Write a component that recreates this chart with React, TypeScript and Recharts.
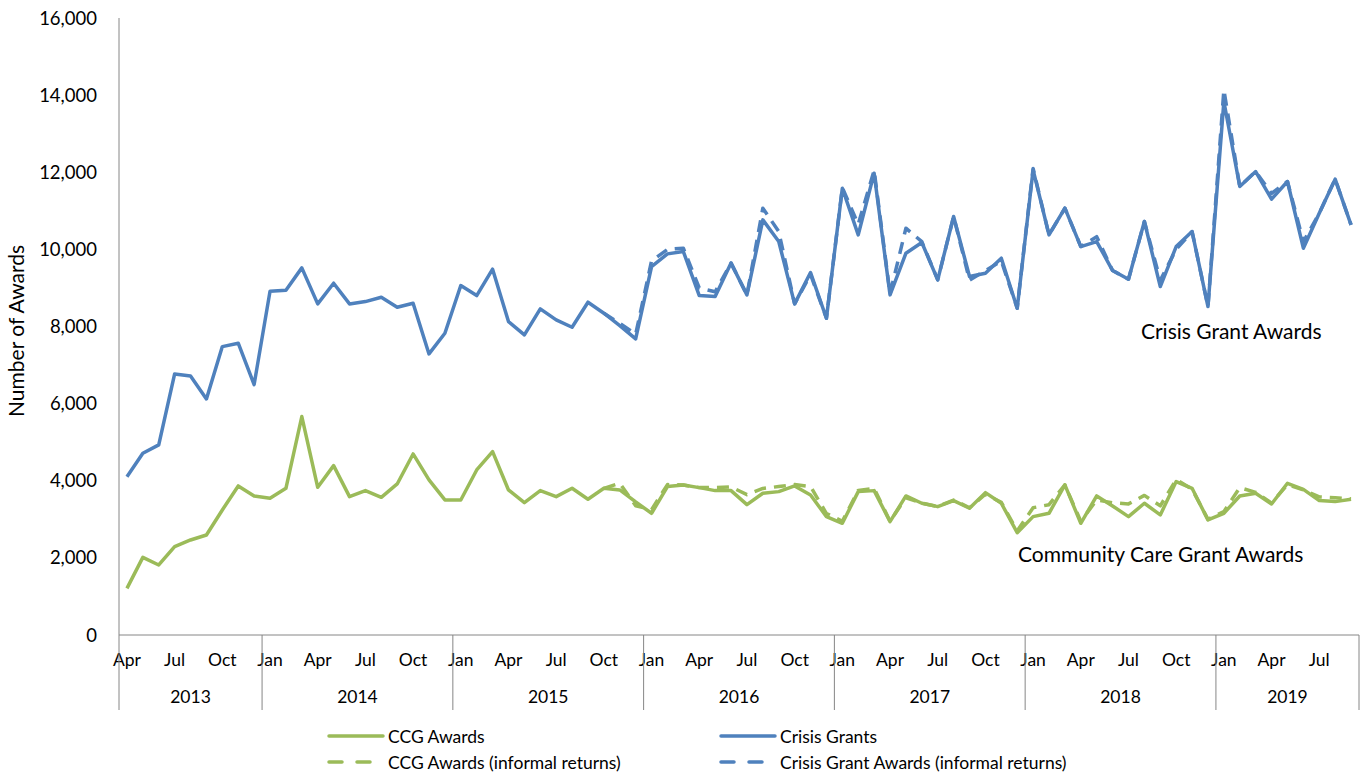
import React from 'react';
import { LineChart, Line, XAxis, YAxis } from 'recharts';

// ---- categories ----
const MONTH_NAMES = ['Jan', 'Feb', 'Mar', 'Apr', 'May', 'Jun', 'Jul', 'Aug', 'Sep', 'Oct', 'Nov', 'Dec'];
const YEARS = ['2013', '2014', '2015', '2016', '2017', '2018', '2019'];
const FIRST_MONTH = 3; // Apr 2013
const LAST_MONTH = 8; // Sep 2019

type Cat = { year: string; month: string; yearIdx: number };
const categories: Cat[] = [];
YEARS.forEach((y, yi) => {
  const start = yi === 0 ? FIRST_MONTH : 0;
  const end = yi === YEARS.length - 1 ? LAST_MONTH : 11;
  for (let m = start; m <= end; m++) categories.push({ year: y, month: MONTH_NAMES[m], yearIdx: yi });
});

// ---- series values (monthly awards) ----
const ccgAwards = [
  1210, 2014, 1816, 2292, 2464, 2594, 3243, 3865, 3606,
  3545, 3804, 5664, 3830, 4393, 3588, 3744, 3571, 3917, 4695, 4021, 3502,
  3502, 4280, 4756, 3761, 3433, 3744, 3588, 3804, 3519, 3804, 3761, 3450,
  3156, 3848, 3891, 3822, 3744, 3744, 3380, 3675, 3718, 3865, 3632, 3070,
  2897, 3718, 3744, 2940, 3606, 3416, 3329, 3485, 3286, 3692, 3416, 2654,
  3070, 3156, 3891, 2897, 3606, 3346, 3070, 3416, 3113, 3978, 3804, 2983,
  3156, 3606, 3675, 3398, 3934, 3778, 3485, 3459, 3519,
];

const ccgInformal = [
  null, null, null, null, null, null, null, null, null,
  null, null, null, null, null, null, null, null, null, null, null, null,
  null, null, null, null, null, null, null, null, null, 3804, 3934, 3350,
  3250, 3900, 3891, 3822, 3822, 3840, 3640, 3800, 3850, 3900, 3850, 3150,
  2950, 3750, 3800, 2950, 3560, 3420, 3330, 3500, 3300, 3650, 3440, 2700,
  3300, 3380, 3891, 2950, 3500, 3430, 3400, 3620, 3350, 4030, 3780, 3000,
  3200, 3820, 3700, 3420, 3900, 3760, 3580, 3560, 3530,
];

const crisisGrants = [
  4106, 4713, 4929, 6770, 6718, 6122, 7479, 7566, 6494,
  8915, 8941, 9520, 8586, 9123, 8586, 8646, 8760, 8500, 8604, 7289, 7826,
  9062, 8802, 9486, 8128, 7782, 8457, 8171, 7981, 8630, 8344, 8024, 7678,
  9555, 9883, 9943, 8802, 8780, 9644, 8820, 10765, 10203, 8586, 9399, 8214,
  11586, 10376, 11976, 8820, 9900, 10177, 9209, 10852, 9295, 9382, 9771, 8474,
  12062, 10376, 11069, 10073, 10203, 9451, 9226, 10722, 9036, 10073, 10462, 8517,
  13835, 11630, 12019, 11301, 11760, 10030, 10938, 11820, 10635,
];

const crisisInformal = [
  null, null, null, null, null, null, null, null, null,
  null, null, null, null, null, null, null, null, null, null, null, null,
  null, null, null, null, null, null, null, null, null, 8344, 8080, 7800,
  9700, 10000, 10030, 9000, 8900, 9644, 8820, 11069, 10462, 8586, 9350, 8214,
  11600, 10650, 12050, 8850, 10550, 10200, 9209, 10852, 9200, 9450, 9700, 8474,
  12100, 10376, 11069, 10073, 10330, 9451, 9226, 10722, 9200, 10000, 10462, 8517,
  14137, 11630, 12019, 11450, 11760, 10200, 10938, 11820, 10635,
];

const Y_TICKS = [0, 2000, 4000, 6000, 8000, 10000, 12000, 14000, 16000];

const SERIES_NAMES = {
  ccg: 'CCG Awards',
  crisis: 'Crisis Grants',
  ccgInf: 'CCG Awards (informal returns)',
  crisisInf: 'Crisis Grant Awards (informal returns)',
};

const data = categories.map((c, i) => ({
  idx: i,
  label: c.month,
  year: c.year,
  ccg: ccgAwards[i],
  crisis: crisisGrants[i],
  ccgInf: ccgInformal[i],
  crisisInf: crisisInformal[i],
}));

// year groups
const yearStarts: number[] = [];
const yearLens: number[] = [];
categories.forEach((c, i) => {
  if (i === 0 || categories[i - 1].yearIdx !== c.yearIdx) {
    yearStarts.push(i);
    yearLens.push(0);
  }
  yearLens[yearLens.length - 1] += 1;
});

// ---- layout ----
const W = 1364;
const H = 776;
const MARGIN = { top: 18, right: 5, bottom: 41, left: 0 };
const Y_AXIS_W = 119;
const X_AXIS_H = 100;
const N = categories.length;
const PLOT_W = W - MARGIN.left - MARGIN.right - Y_AXIS_W;
const STEP = PLOT_W / N;

const BLUE = '#4F81BD';
const GREEN = '#9BBB59';
const AXIS = '#868686';
const FONT = 'Lato, "Open Sans", sans-serif';

const allIdx = categories.map((_, i) => i);

function CategoryTick(props: any) {
  const { x, y, payload } = props;
  const i = payload.value as number;
  const els: React.ReactNode[] = [];
  if (i % 3 === 0) {
    els.push(
      <text key="m" x={x} y={y + 31} textAnchor="middle" fontSize={17.5} fill="#000" fontFamily={FONT}>
        {categories[i].month}
      </text>
    );
  }
  const g = yearStarts.indexOf(i);
  if (g >= 0) {
    const lx = x - STEP / 2;
    els.push(<line key="d" x1={lx} x2={lx} y1={y} y2={y + 75} stroke={AXIS} strokeWidth={1} />);
    els.push(
      <text key="y" x={x + ((yearLens[g] - 1) / 2) * STEP} y={y + 68} textAnchor="middle" fontSize={17.5} fill="#000" fontFamily={FONT}>
        {YEARS[g]}
      </text>
    );
  }
  if (i === N - 1) {
    const rx = x + STEP / 2;
    els.push(<line key="r" x1={rx} x2={rx} y1={y} y2={y + 75} stroke={AXIS} strokeWidth={1} />);
  }
  return <g>{els}</g>;
}

function LegendItem({ color, dashed, text }: { color: string; dashed: boolean; text: string }) {
  return (
    <div style={{ display: 'flex', alignItems: 'center', height: 26 }}>
      <svg width={58} height={10} style={{ marginRight: 3 }}>
        <line x1={2} x2={56} y1={5} y2={5} stroke={color} strokeWidth={3.5} strokeDasharray={dashed ? '13 15' : undefined} strokeLinecap="round" />
      </svg>
      <span style={{ fontSize: 17.5, color: '#000', fontFamily: FONT, whiteSpace: 'nowrap' }}>{text}</span>
    </div>
  );
}

export default function App() {
  return (
    <div style={{ position: 'absolute', left: 0, top: 0, width: W, height: H, background: '#fff', fontFamily: FONT }}>
      <LineChart width={W} height={H} data={data} margin={MARGIN}>
        <XAxis
          dataKey="idx"
          type="number"
          domain={[-0.5, N - 0.5]}
          ticks={allIdx}
          interval={0}
          tickLine={false}
          tickSize={0}
          tickMargin={0}
          height={X_AXIS_H}
          axisLine={{ stroke: AXIS, strokeWidth: 1 }}
          tick={<CategoryTick />}
        />
        <YAxis
          type="number"
          domain={[0, 16000]}
          ticks={Y_TICKS}
          interval={0}
          width={Y_AXIS_W}
          tickLine={false}
          tickSize={0}
          tickMargin={22}
          axisLine={{ stroke: AXIS, strokeWidth: 1 }}
          tickFormatter={(v: number) => v.toLocaleString('en-GB')}
          tick={{ fill: '#000', fontSize: 18.5, fontFamily: FONT }}
          label={{
            content: () => (
              <text x={24} y={331} transform="rotate(-90, 24, 331)" textAnchor="middle" fontSize={21} fill="#000" fontFamily={FONT}>
                Number of Awards
              </text>
            ),
          }}
        />
        <Line type="linear" dataKey="ccg" name={SERIES_NAMES.ccg} stroke={GREEN} strokeWidth={3.5} dot={false} activeDot={false} strokeLinejoin="round" isAnimationActive={false} />
        <Line type="linear" dataKey="crisis" name={SERIES_NAMES.crisis} stroke={BLUE} strokeWidth={3.5} dot={false} activeDot={false} strokeLinejoin="round" isAnimationActive={false} />
        <Line type="linear" dataKey="ccgInf" name={SERIES_NAMES.ccgInf} stroke={GREEN} strokeWidth={3.5} strokeDasharray="12 8" dot={false} activeDot={false} strokeLinejoin="round" isAnimationActive={false} />
        <Line type="linear" dataKey="crisisInf" name={SERIES_NAMES.crisisInf} stroke={BLUE} strokeWidth={3.5} strokeDasharray="12 8" dot={false} activeDot={false} strokeLinejoin="round" isAnimationActive={false} />
      </LineChart>

      <div style={{ position: 'absolute', left: 1141, top: 318, fontSize: 21, lineHeight: '26px', color: '#000', fontFamily: FONT, whiteSpace: 'nowrap' }}>
        Crisis Grant Awards
      </div>
      <div style={{ position: 'absolute', left: 1018, top: 541, fontSize: 21, lineHeight: '26px', color: '#000', fontFamily: FONT, whiteSpace: 'nowrap' }}>
        Community Care Grant Awards
      </div>

      <div style={{ position: 'absolute', left: 327, top: 723 }}>
        <LegendItem color={GREEN} dashed={false} text={SERIES_NAMES.ccg} />
        <LegendItem color={GREEN} dashed={true} text={SERIES_NAMES.ccgInf} />
      </div>
      <div style={{ position: 'absolute', left: 719, top: 723 }}>
        <LegendItem color={BLUE} dashed={false} text={SERIES_NAMES.crisis} />
        <LegendItem color={BLUE} dashed={true} text={SERIES_NAMES.crisisInf} />
      </div>
    </div>
  );
}
